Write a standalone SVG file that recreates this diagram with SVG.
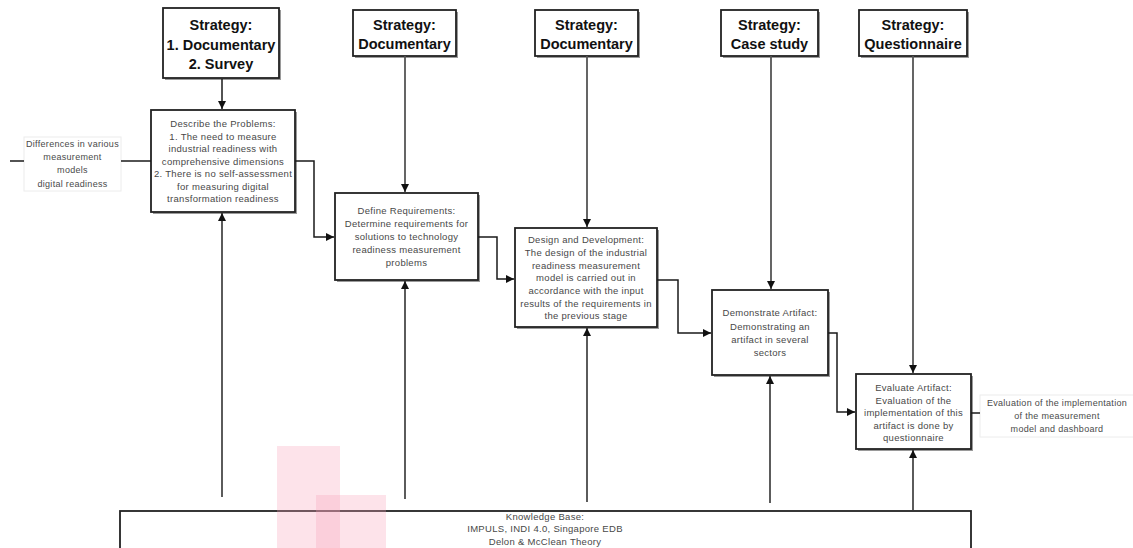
<svg xmlns="http://www.w3.org/2000/svg" width="1133" height="548" viewBox="0 0 1133 548">
  <defs>
    <marker id="arrow" markerUnits="userSpaceOnUse" markerWidth="9" markerHeight="9" refX="8" refY="4" orient="auto">
      <path d="M0,0 L8,4 L0,8 z" fill="#111"/>
    </marker>
    <style>
      .strategy rect.box { fill: #fff; stroke: #222; stroke-width: 1.8; }
      .strategy rect.shade { fill: #9a9a9a; }
      .strategy text { font-family: "Liberation Sans", Arial, sans-serif; font-weight: bold; font-size: 14.5px; fill: #111; text-anchor: middle; }
      .step rect.box { fill: #fff; stroke: #222; stroke-width: 1.8; }
      .step rect.shade { fill: #9a9a9a; }
      .step text { font-family: "Liberation Sans", Arial, sans-serif; font-size: 9.5px; letter-spacing: 0.3px; fill: #484848; text-anchor: middle; }
      .note rect { fill: #fff; stroke: #ececec; stroke-width: 1; }
      .note text { font-family: "Liberation Sans", Arial, sans-serif; font-size: 9px; letter-spacing: 0.3px; fill: #4a4a4a; text-anchor: middle; }
      .conn { fill: none; stroke: #1a1a1a; stroke-width: 1.5; }
      .drop { fill: none; stroke: #555; stroke-width: 1.8; }
      .lift { fill: none; stroke: #333; stroke-width: 1.6; }
      .hl { fill: #f7a1b9; fill-opacity: 0.3; }
    </style>
  </defs>

  <rect width="1133" height="548" fill="#fff"/>

  <!-- strategy boxes -->
  <g id="strategy-1" class="strategy">
    <rect class="shade" x="165" y="10" width="116" height="70"/>
    <rect class="box" x="163" y="8" width="116" height="70"/>
    <text x="221" y="30">Strategy:</text>
    <text x="221" y="50">1. Documentary</text>
    <text x="221" y="69">2. Survey</text>
  </g>
  <g id="strategy-2" class="strategy">
    <rect class="shade" x="355" y="12" width="103" height="46"/>
    <rect class="box" x="353" y="10" width="103" height="46"/>
    <text x="404.5" y="30">Strategy:</text>
    <text x="404.5" y="49">Documentary</text>
  </g>
  <g id="strategy-3" class="strategy">
    <rect class="shade" x="537" y="12" width="103" height="46"/>
    <rect class="box" x="535" y="10" width="103" height="46"/>
    <text x="586.5" y="30">Strategy:</text>
    <text x="586.5" y="49">Documentary</text>
  </g>
  <g id="strategy-4" class="strategy">
    <rect class="shade" x="723" y="12" width="97" height="46"/>
    <rect class="box" x="721" y="10" width="97" height="46"/>
    <text x="769.5" y="30">Strategy:</text>
    <text x="769.5" y="49">Case study</text>
  </g>
  <g id="strategy-5" class="strategy">
    <rect class="shade" x="861" y="12" width="108" height="46"/>
    <rect class="box" x="859" y="10" width="108" height="46"/>
    <text x="913" y="30">Strategy:</text>
    <text x="913" y="49">Questionnaire</text>
  </g>

  <!-- process steps -->
  <g id="describe" class="step">
    <rect class="shade" x="153" y="112" width="144" height="102"/>
    <rect class="box" x="151" y="110" width="144" height="102"/>
    <text x="223" y="127">Describe the Problems:</text>
    <text x="223" y="139.5">1. The need to measure</text>
    <text x="223" y="152">industrial readiness with</text>
    <text x="223" y="164.5">comprehensive dimensions</text>
    <text x="223" y="177">2. There is no self-assessment</text>
    <text x="223" y="189.5">for measuring digital</text>
    <text x="223" y="202">transformation readiness</text>
  </g>
  <g id="define" class="step">
    <rect class="shade" x="337" y="195" width="143" height="87"/>
    <rect class="box" x="335" y="193" width="143" height="87"/>
    <text x="406.5" y="214">Define Requirements:</text>
    <text x="406.5" y="227">Determine requirements for</text>
    <text x="406.5" y="240">solutions to technology</text>
    <text x="406.5" y="253">readiness measurement</text>
    <text x="406.5" y="266">problems</text>
  </g>
  <g id="design" class="step">
    <rect class="shade" x="517" y="230" width="142" height="99"/>
    <rect class="box" x="515" y="228" width="142" height="99"/>
    <text x="586" y="243">Design and Development:</text>
    <text x="586" y="256">The design of the industrial</text>
    <text x="586" y="269">readiness measurement</text>
    <text x="586" y="281">model is carried out in</text>
    <text x="586" y="294">accordance with the input</text>
    <text x="586" y="307">results of the requirements in</text>
    <text x="586" y="319">the previous stage</text>
  </g>
  <g id="demonstrate" class="step">
    <rect class="shade" x="714" y="292" width="116" height="85"/>
    <rect class="box" x="712" y="290" width="116" height="85"/>
    <text x="770" y="316">Demonstrate Artifact:</text>
    <text x="770" y="330">Demonstrating an</text>
    <text x="770" y="343">artifact in several</text>
    <text x="770" y="356">sectors</text>
  </g>
  <g id="evaluate" class="step">
    <rect class="shade" x="858" y="376" width="115" height="75"/>
    <rect class="box" x="856" y="374" width="115" height="75"/>
    <text x="913.5" y="391">Evaluate Artifact:</text>
    <text x="913.5" y="403.5">Evaluation of the</text>
    <text x="913.5" y="416">implementation of this</text>
    <text x="913.5" y="428.5">artifact is done by</text>
    <text x="913.5" y="441">questionnaire</text>
  </g>

  <!-- input and output notes -->
  <g id="input-note" class="note">
    <rect x="24" y="137" width="97" height="54"/>
    <text x="72.5" y="147">Differences in various</text>
    <text x="72.5" y="160">measurement</text>
    <text x="72.5" y="173">models</text>
    <text x="72.5" y="187">digital readiness</text>
  </g>
  <g id="output-note" class="note">
    <rect x="980" y="395" width="160" height="42"/>
    <text x="1057" y="406">Evaluation of the implementation</text>
    <text x="1057" y="419">of the measurement</text>
    <text x="1057" y="432">model and dashboard</text>
  </g>

  <!-- knowledge base -->
  <g id="knowledge-base" class="step">
    <rect class="box" x="120" y="511" width="851" height="42"/>
    <text x="545" y="520">Knowledge Base:</text>
    <text x="545" y="532">IMPULS, INDI 4.0, Singapore EDB</text>
    <text x="545" y="545">Delon &amp; McClean Theory</text>
  </g>

  <!-- connectors -->
  <g id="connectors">
    <path class="conn" d="M222,79 V109" marker-end="url(#arrow)"/>
    <path class="drop" d="M405,56 V192" marker-end="url(#arrow)"/>
    <path class="drop" d="M587,56 V227" marker-end="url(#arrow)"/>
    <path class="drop" d="M771,56 V289" marker-end="url(#arrow)"/>
    <path class="drop" d="M913,56 V373" marker-end="url(#arrow)"/>

    <path class="conn" d="M10,161 H24"/>
    <path class="conn" d="M121,161 H151"/>
    <path class="conn" d="M295,161 H314 V237 H334" marker-end="url(#arrow)"/>
    <path class="conn" d="M478,237 H497 V279 H514" marker-end="url(#arrow)"/>
    <path class="conn" d="M657,280 H678 V333 H711" marker-end="url(#arrow)"/>
    <path class="conn" d="M828,333 H837 V412 H855" marker-end="url(#arrow)"/>
    <path class="conn" d="M971,413 H980"/>

    <path class="lift" d="M222,497 V213" marker-end="url(#arrow)"/>
    <path class="lift" d="M405,499 V281" marker-end="url(#arrow)"/>
    <path class="lift" d="M587,502 V328" marker-end="url(#arrow)"/>
    <path class="lift" d="M770,503 V376" marker-end="url(#arrow)"/>
    <path class="lift" d="M913,510 V450" marker-end="url(#arrow)"/>
  </g>

  <!-- highlight marks -->
  <rect class="hl" x="277" y="446" width="63" height="102"/>
  <rect class="hl" x="316" y="495" width="70" height="53"/>
</svg>
